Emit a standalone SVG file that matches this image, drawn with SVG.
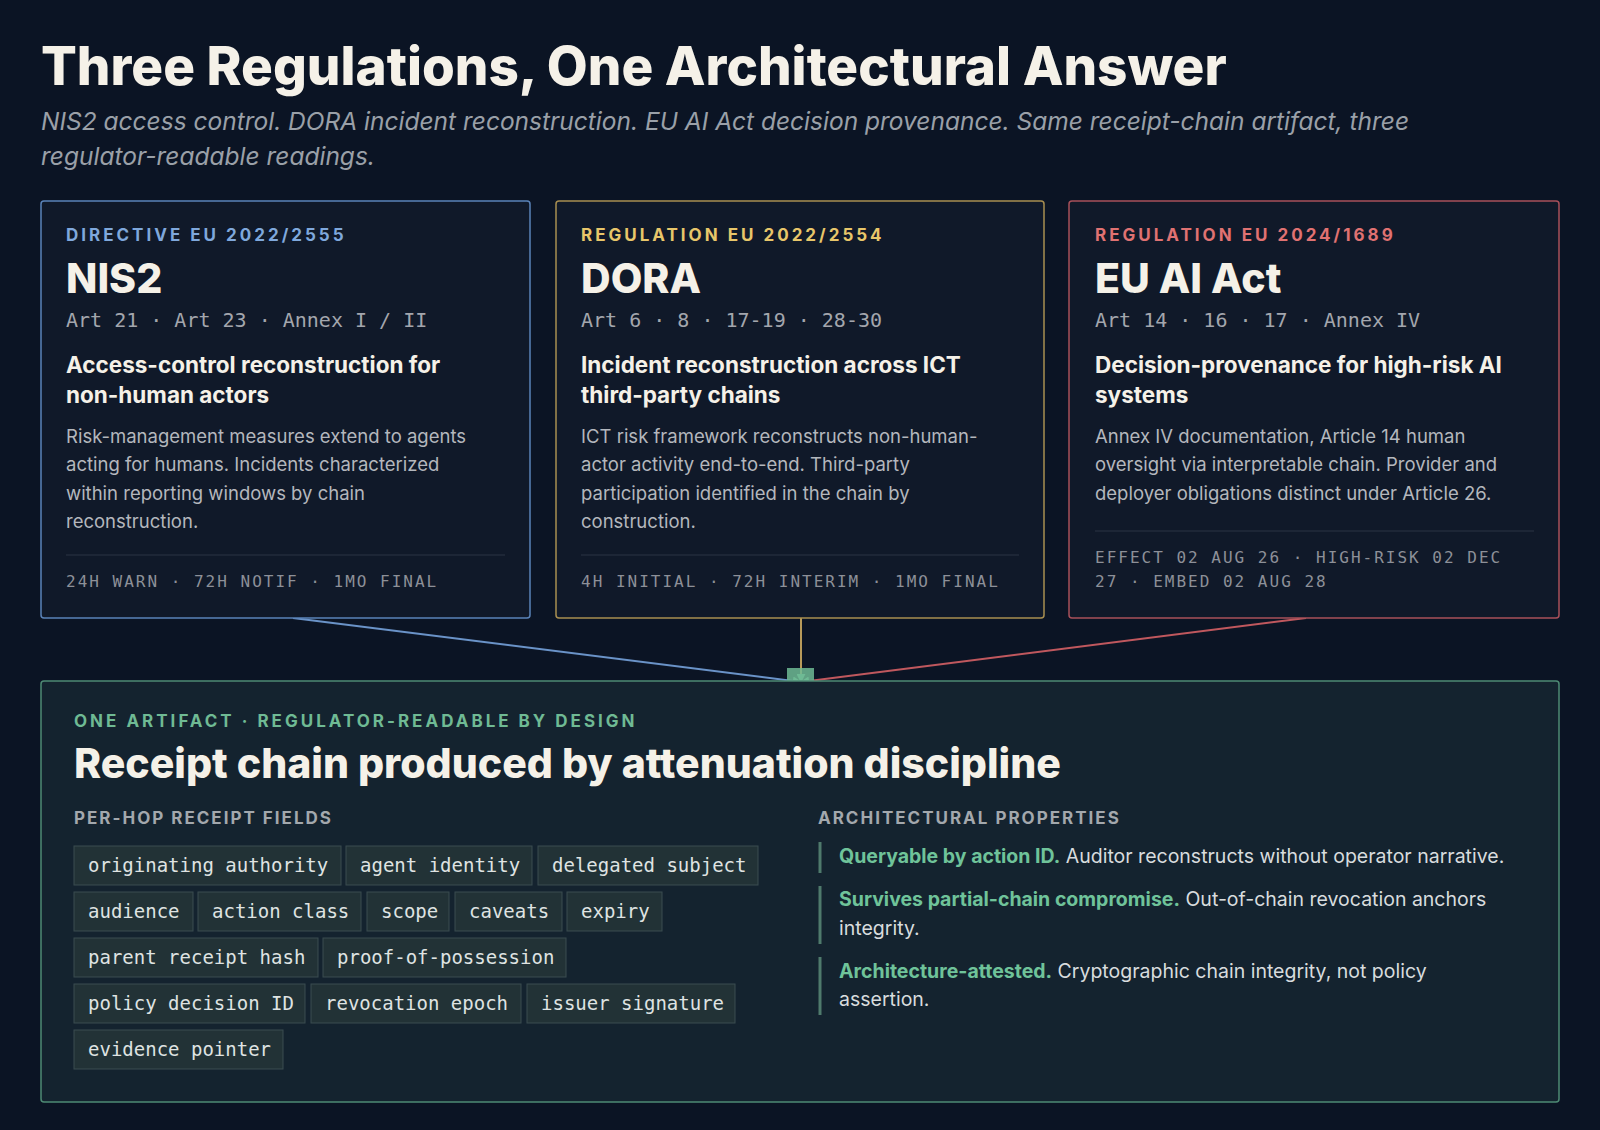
<svg xmlns="http://www.w3.org/2000/svg" width="1600" height="1130" viewBox="0 0 1600 1130">
<defs>
<style>
.sans{font-family:Inter,"Noto Sans","Liberation Sans",sans-serif}
.mono{font-family:"DejaVu Sans Mono","Liberation Mono",monospace}
.card{fill:#101929;stroke-width:1.5}
.lab{font-family:Inter,"Liberation Sans",sans-serif;font-weight:700;font-size:17px;letter-spacing:3px}
.ttl{font-family:Inter,"Liberation Sans",sans-serif;font-weight:800;font-size:41px;fill:#f5f1e8}
.art{font-family:"DejaVu Sans Mono","Liberation Mono",monospace;font-size:20px;fill:#a3a6ad}
.hd{font-family:Inter,"Liberation Sans",sans-serif;font-weight:700;font-size:22.5px;fill:#f5f1e8}
.bd{font-family:Inter,"Liberation Sans",sans-serif;font-size:18.5px;fill:#b4b7bd}
.ft{font-family:"DejaVu Sans Mono","Liberation Mono",monospace;font-size:16px;fill:#8d9098;letter-spacing:2px}
.sep{stroke:#2a3444;stroke-width:1}
.chip{fill:#223236;stroke:#3a4c50;stroke-width:1}
.ct{font-family:"DejaVu Sans Mono","Liberation Mono",monospace;font-size:19px;fill:#dfe3e2}
.sub{font-family:Inter,"Liberation Sans",sans-serif;font-weight:700;font-size:17px;letter-spacing:2px;fill:#a3a8ad}
.pt{font-family:Inter,"Liberation Sans",sans-serif;font-size:19.5px;fill:#d8dcde}
.pg{font-weight:700;fill:#6fc39a}
.bar{stroke:#4f7a6c;stroke-width:3}
</style>
<marker id="ah" viewBox="0 0 10 10" refX="9" refY="5" markerWidth="9" markerHeight="9" orient="auto" markerUnits="userSpaceOnUse"><path d="M0,0 L10,5 L0,10 z" fill="#6fba94"/></marker>
</defs>
<rect width="1600" height="1130" fill="#0b1424"/>
<text x="41" y="85" class="sans" font-size="53" font-weight="800" fill="#f5f1e8">Three Regulations, One Architectural Answer</text>
<text x="41" y="130" class="sans" font-size="24.5" font-style="italic" fill="#9aa0a8">NIS2 access control. DORA incident reconstruction. EU AI Act decision provenance. Same receipt-chain artifact, three</text>
<text x="41" y="165" class="sans" font-size="24.5" font-style="italic" fill="#9aa0a8">regulator-readable readings.</text>

<g id="connectors">
<line x1="293" y1="618" x2="801" y2="682" stroke="#6a93c8" stroke-width="2" marker-end="url(#ah)"/>
<line x1="801" y1="618" x2="801" y2="682" stroke="#b89a5a" stroke-width="2" marker-end="url(#ah)"/>
<line x1="1306" y1="618" x2="801" y2="682" stroke="#c0585e" stroke-width="2" marker-end="url(#ah)"/>
<rect x="787" y="668" width="27" height="14" fill="#6fba94" opacity="0.85"/>
</g>

<g id="nis2">
<rect x="41" y="201" width="489" height="417" rx="3" class="card" stroke="#5a83b8"/>
<text x="66" y="241" class="lab" fill="#7fa8dc">DIRECTIVE EU 2022/2555</text>
<text x="66" y="293" class="ttl">NIS2</text>
<text x="66" y="327" class="art">Art 21 · Art 23 · Annex I / II</text>
<text x="66" y="373" class="hd">Access-control reconstruction for</text>
<text x="66" y="403" class="hd">non-human actors</text>
<text x="66" y="443" class="bd">Risk-management measures extend to agents</text>
<text x="66" y="471" class="bd">acting for humans. Incidents characterized</text>
<text x="66" y="500" class="bd">within reporting windows by chain</text>
<text x="66" y="528" class="bd">reconstruction.</text>
<line x1="66" y1="555" x2="505" y2="555" class="sep"/>
<text x="66" y="587" class="ft">24H WARN · 72H NOTIF · 1MO FINAL</text>
</g>

<g id="dora">
<rect x="556" y="201" width="488" height="417" rx="3" class="card" stroke="#a88e50"/>
<text x="581" y="241" class="lab" fill="#e8c66a">REGULATION EU 2022/2554</text>
<text x="581" y="293" class="ttl">DORA</text>
<text x="581" y="327" class="art">Art 6 · 8 · 17-19 · 28-30</text>
<text x="581" y="373" class="hd">Incident reconstruction across ICT</text>
<text x="581" y="403" class="hd">third-party chains</text>
<text x="581" y="443" class="bd">ICT risk framework reconstructs non-human-</text>
<text x="581" y="471" class="bd">actor activity end-to-end. Third-party</text>
<text x="581" y="500" class="bd">participation identified in the chain by</text>
<text x="581" y="528" class="bd">construction.</text>
<line x1="581" y1="555" x2="1019" y2="555" class="sep"/>
<text x="581" y="587" class="ft">4H INITIAL · 72H INTERIM · 1MO FINAL</text>
</g>

<g id="euaiact">
<rect x="1069" y="201" width="490" height="417" rx="3" class="card" stroke="#a8505a"/>
<text x="1095" y="241" class="lab" fill="#e07272">REGULATION EU 2024/1689</text>
<text x="1095" y="293" class="ttl">EU AI Act</text>
<text x="1095" y="327" class="art">Art 14 · 16 · 17 · Annex IV</text>
<text x="1095" y="373" class="hd">Decision-provenance for high-risk AI</text>
<text x="1095" y="403" class="hd">systems</text>
<text x="1095" y="443" class="bd">Annex IV documentation, Article 14 human</text>
<text x="1095" y="471" class="bd">oversight via interpretable chain. Provider and</text>
<text x="1095" y="500" class="bd">deployer obligations distinct under Article 26.</text>
<line x1="1095" y1="531" x2="1534" y2="531" class="sep"/>
<text x="1095" y="563" class="ft">EFFECT 02 AUG 26 · HIGH-RISK 02 DEC</text>
<text x="1095" y="587" class="ft">27 · EMBED 02 AUG 28</text>
</g>

<g id="receipt-chain">
<rect x="41" y="681" width="1518" height="421" rx="3" fill="#14232f" stroke="#4e8a74" stroke-width="1.5"/>
<text x="74" y="727" class="lab" fill="#6fba94">ONE ARTIFACT · REGULATOR-READABLE BY DESIGN</text>
<text x="74" y="778" class="sans" font-size="41" font-weight="800" fill="#f5f1e8">Receipt chain produced by attenuation discipline</text>
<text x="74" y="824" class="sub">PER-HOP RECEIPT FIELDS</text>
<g>
<rect x="74" y="846" width="267" height="39" class="chip"/><text x="88" y="872" class="ct">originating authority</text>
<rect x="346" y="846" width="186" height="39" class="chip"/><text x="360" y="872" class="ct">agent identity</text>
<rect x="538" y="846" width="220" height="39" class="chip"/><text x="552" y="872" class="ct">delegated subject</text>
<rect x="74" y="892" width="119" height="39" class="chip"/><text x="88" y="918" class="ct">audience</text>
<rect x="198" y="892" width="163" height="39" class="chip"/><text x="212" y="918" class="ct">action class</text>
<rect x="367" y="892" width="82" height="39" class="chip"/><text x="381" y="918" class="ct">scope</text>
<rect x="455" y="892" width="107" height="39" class="chip"/><text x="469" y="918" class="ct">caveats</text>
<rect x="567" y="892" width="95" height="39" class="chip"/><text x="581" y="918" class="ct">expiry</text>
<rect x="74" y="938" width="244" height="39" class="chip"/><text x="88" y="964" class="ct">parent receipt hash</text>
<rect x="323" y="938" width="243" height="39" class="chip"/><text x="337" y="964" class="ct">proof-of-possession</text>
<rect x="74" y="984" width="231" height="39" class="chip"/><text x="88" y="1010" class="ct">policy decision ID</text>
<rect x="311" y="984" width="210" height="39" class="chip"/><text x="325" y="1010" class="ct">revocation epoch</text>
<rect x="527" y="984" width="208" height="39" class="chip"/><text x="541" y="1010" class="ct">issuer signature</text>
<rect x="74" y="1030" width="209" height="39" class="chip"/><text x="88" y="1056" class="ct">evidence pointer</text>
</g>
<text x="818" y="824" class="sub">ARCHITECTURAL PROPERTIES</text>
<line x1="820" y1="842" x2="820" y2="873" class="bar"/>
<text x="839" y="863" class="pt"><tspan class="pg">Queryable by action ID.</tspan> Auditor reconstructs without operator narrative.</text>
<line x1="820" y1="886" x2="820" y2="944" class="bar"/>
<text x="839" y="906" class="pt"><tspan class="pg">Survives partial-chain compromise.</tspan> Out-of-chain revocation anchors</text>
<text x="839" y="935" class="pt">integrity.</text>
<line x1="820" y1="957" x2="820" y2="1015" class="bar"/>
<text x="839" y="978" class="pt"><tspan class="pg">Architecture-attested.</tspan> Cryptographic chain integrity, not policy</text>
<text x="839" y="1006" class="pt">assertion.</text>
</g>
</svg>
